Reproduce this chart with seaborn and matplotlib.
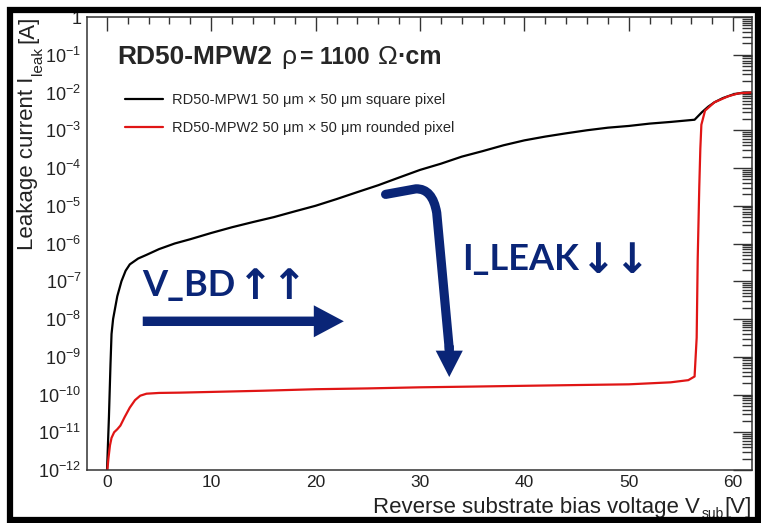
import numpy as np
import pandas as pd
import matplotlib
matplotlib.use("Agg")
import matplotlib.pyplot as plt
import seaborn as sns
from matplotlib.ticker import FixedLocator, FuncFormatter, MultipleLocator, NullFormatter, LogLocator
from matplotlib.patches import Rectangle, PathPatch
from matplotlib.path import Path
from matplotlib.lines import Line2D

# ---------------- data ----------------
mpw1_v = [0.02, 0.2, 0.35, 0.45, 0.6, 0.8, 1.0, 1.4, 1.8, 2.2, 3.0, 3.8, 5.0, 6.5, 8.0,
          10, 12, 14, 16, 18, 20, 22, 24, 26, 28, 30, 32, 34, 36, 38, 40, 42, 44, 46,
          48, 50, 52, 54, 56.3, 57.0, 57.6, 58.2, 59.0, 60.0, 61.0, 61.8]
mpw1_i = [1.0e-12, 2.5e-11, 6.3e-10, 4.0e-9, 1.0e-8, 2.0e-8, 4.0e-8, 1.0e-7, 1.9e-7,
          2.8e-7, 4.0e-7, 5.0e-7, 7.1e-7, 1.0e-6, 1.3e-6, 1.9e-6, 2.7e-6, 3.7e-6,
          5.0e-6, 7.1e-6, 1.0e-5, 1.5e-5, 2.3e-5, 3.5e-5, 5.6e-5, 8.9e-5, 1.3e-4,
          2.0e-4, 2.8e-4, 4.0e-4, 5.4e-4, 6.8e-4, 8.3e-4, 1.0e-3, 1.17e-3, 1.3e-3,
          1.5e-3, 1.66e-3, 1.9e-3, 3.0e-3, 4.2e-3, 5.5e-3, 7.1e-3, 8.9e-3, 1.0e-2, 1.0e-2]

mpw2_v = [0.05, 0.15, 0.3, 0.45, 0.7, 1.0, 1.3, 1.7, 2.2, 2.7, 3.2, 3.8, 5, 7, 10, 15,
          20, 25, 30, 35, 40, 45, 50, 54, 55.7, 56.3, 56.5, 56.6, 56.75, 56.85, 56.95,
          57.3, 58.2, 59.5, 60.5, 61.8]
mpw2_i = [1.0e-12, 2.0e-12, 4.5e-12, 7.1e-12, 1.0e-11, 1.2e-11, 1.5e-11, 2.5e-11,
          4.5e-11, 7.1e-11, 9.3e-11, 1.05e-10, 1.1e-10, 1.12e-10, 1.17e-10, 1.26e-10,
          1.38e-10, 1.45e-10, 1.55e-10, 1.62e-10, 1.7e-10, 1.78e-10, 1.86e-10, 2.1e-10,
          2.4e-10, 3.0e-10, 3.2e-9, 4.0e-7, 3.2e-5, 3.2e-4, 1.4e-3, 3.3e-3, 5.5e-3,
          7.9e-3, 9.5e-3, 1.0e-2]

series_labels = ["RD50-MPW1 50 μm × 50 μm square pixel",
                 "RD50-MPW2 50 μm × 50 μm rounded pixel"]
series_colors = ["#000000", "#e01515"]
x_major_ticks = [0, 10, 20, 30, 40, 50, 60]
y_decades = list(range(-12, 1))
x_limits = (-1.9, 61.8)
y_limits = (1e-12, 1.0)

navy = "#0a2577"

# ---------------- style ----------------
sns.set_theme(style="white")
plt.rcParams["font.family"] = ["Liberation Sans", "DejaVu Sans"]
plt.rcParams["mathtext.fontset"] = "custom"
plt.rcParams["mathtext.rm"] = "Liberation Sans"
plt.rcParams["mathtext.it"] = "Liberation Sans:italic"
plt.rcParams["mathtext.bf"] = "Liberation Sans:bold"

W, H = 761, 523


def P(x, y):
    return (x / W, 1 - y / H)


df = pd.concat([
    pd.DataFrame({"V": mpw1_v, "I": mpw1_i, "device": series_labels[0]}),
    pd.DataFrame({"V": mpw2_v, "I": mpw2_i, "device": series_labels[1]}),
], ignore_index=True)

fig = plt.figure(figsize=(W / 100, H / 100), dpi=100)
ax = fig.add_axes([87 / W, 1 - 470 / H, (752 - 87) / W, (470 - 17) / H])

sns.lineplot(data=df, x="V", y="I", hue="device", palette=dict(zip(series_labels, series_colors)),
             estimator=None, sort=False, linewidth=1.6, ax=ax, legend=False)

ax.set_yscale("log")
ax.set_xlim(*x_limits)
ax.set_ylim(*y_limits)
ax.set_xlabel("")
ax.set_ylabel("")

# ticks
ax.xaxis.set_major_locator(FixedLocator(x_major_ticks))
ax.xaxis.set_minor_locator(MultipleLocator(2))
ax.yaxis.set_major_locator(FixedLocator([10.0 ** d for d in y_decades]))
ax.yaxis.set_minor_locator(LogLocator(base=10, subs=np.arange(2, 10), numticks=100))
ax.yaxis.set_minor_formatter(NullFormatter())


def yfmt(v, pos):
    e = int(round(np.log10(v)))
    if e == 0:
        return "1"
    return r"$10^{%d}$" % e


ax.yaxis.set_major_formatter(FuncFormatter(yfmt))
tick_color = "#333333"
ax.tick_params(axis="both", which="both", direction="in", top=True, right=True,
               colors=tick_color, labelcolor="#222222", width=1.0)
ax.tick_params(axis="x", which="major", length=10, labelsize=12.5, pad=3.5)
ax.tick_params(axis="x", which="minor", length=5)
ax.tick_params(axis="y", which="major", length=14, labelsize=13, pad=4)
ax.tick_params(axis="y", which="minor", length=7)
for s in ax.spines.values():
    s.set_color(tick_color)
    s.set_linewidth(1.1)
    s.set_visible(True)

# legend
handles = [Line2D([], [], color=c, lw=1.6) for c in series_colors]
ax.legend(handles, series_labels, loc="upper left",
          bbox_to_anchor=((125 - 87) / 665, 1 - (93 - 17) / 453),
          frameon=False, fontsize=10.5, handlelength=2.6, handletextpad=0.6,
          labelspacing=0.95, borderpad=0, borderaxespad=0)

# title pieces
fig.text(*P(117, 64), "RD50-MPW2", fontsize=19, fontweight="bold", ha="left", va="baseline")
fig.text(*P(281, 64), "ρ", fontsize=19, ha="left", va="baseline")
fig.text(*P(300, 64), "= 1100", fontsize=16.5, fontweight="bold", ha="left", va="baseline")
fig.text(*P(378, 64), "Ω", fontsize=19, ha="left", va="baseline")
fig.text(*P(397, 64), "·cm", fontsize=18, fontweight="bold", ha="left", va="baseline")

# axis labels (ROOT style, aligned to the axis ends)
fig.text(*P(33, 77), "Leakage current I", fontsize=16, rotation=90, rotation_mode="anchor",
         ha="right", va="baseline", color="#222222")
fig.text(*P(42, 47), "leak", fontsize=11, rotation=90, rotation_mode="anchor",
         ha="right", va="baseline", color="#222222")
fig.text(*P(33, 16), "[A]", fontsize=16, rotation=90, rotation_mode="anchor",
         ha="right", va="baseline", color="#222222")
fig.text(*P(700, 513), "Reverse substrate bias voltage V", fontsize=16, ha="right",
         va="baseline", color="#222222")
fig.text(*P(702, 518), "sub", fontsize=10, ha="left", va="baseline", color="#222222")
fig.text(*P(752, 513), "[V]", fontsize=16, ha="right", va="baseline", color="#222222")

# annotations (data coordinates)
ann_font = ["Lato", "DejaVu Sans"]
ax.text(3.4, 4.0e-8, "V_BD", fontsize=26, fontweight="bold", color=navy,
        family=ann_font, ha="left", va="baseline")
ax.text(12.6, 3.4e-8, "↑↑", fontsize=30, fontweight="bold", color=navy, family=["DejaVu Sans"],
        ha="left", va="baseline")
ax.text(34.0, 1.95e-7, "I_LEAK", fontsize=26, fontweight="bold", color=navy,
        family=ann_font, ha="left", va="baseline")
ax.text(45.4, 1.65e-7, "↓↓", fontsize=30, fontweight="bold", color=navy, family=["DejaVu Sans"],
        ha="left", va="baseline")

ax.annotate("", xy=(22.7, 8.7e-9), xytext=(3.44, 8.7e-9),
            arrowprops=dict(arrowstyle="simple,head_length=21.6,head_width=23,tail_width=6.8",
                            mutation_scale=1, color=navy, shrinkA=0, shrinkB=0, lw=0))

hook = Path([(26.7, 2.0e-5), (29.6, 2.8e-5), (31.2, 2.9e-5), (31.6, 6.5e-6), (32.8, 1.6e-9)],
            [Path.MOVETO, Path.LINETO, Path.CURVE3, Path.CURVE3, Path.LINETO])
ax.add_patch(PathPatch(hook, facecolor="none", edgecolor=navy, lw=6.6,
                       capstyle="round", joinstyle="round", transform=ax.transData, zorder=4))
ax.annotate("", xy=(32.8, 2.9e-10), xytext=(32.8, 2.0e-9),
            arrowprops=dict(arrowstyle="simple,head_length=19,head_width=19.5,tail_width=6.6",
                            mutation_scale=1, color=navy, shrinkA=0, shrinkB=0, lw=0))

# thick outer frame
frame = Rectangle(P(10, 519.5), (758 - 10) / W, (519.5 - 9.5) / H, transform=fig.transFigure,
                  fill=False, edgecolor="black", lw=4.5, zorder=10)
fig.add_artist(frame)

fig.savefig("out.png", dpi=100)
